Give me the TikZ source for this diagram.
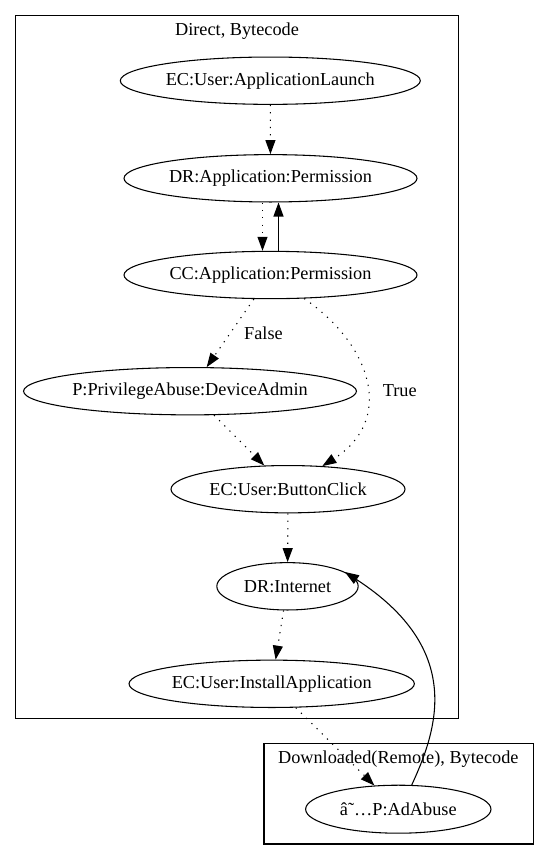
\documentclass[tikz,border=0pt]{standalone}
\usepackage{fontspec}
\setmainfont{Liberation Serif}
\usetikzlibrary{shapes.geometric,arrows.meta}
\begin{document}
\begin{tikzpicture}[x=0.75pt,y=-0.75pt,
  every node/.style={font=\fontsize{13.7pt}{16pt}\selectfont},
  gnode/.style={draw,ellipse,inner sep=0pt,line width=0.8pt,minimum height=35.5pt},
  cluster/.style={draw,line width=0.8pt},
  edge/.style={line width=0.8pt,-{Triangle[length=10.5pt,width=7.5pt]}},
  dotedge/.style={edge,dash pattern=on 0.9pt off 4.6pt},
  lbl/.style={inner sep=0pt}]
\useasboundingbox[fill=white] (0,0) rectangle (549,860);
% clusters
\draw[cluster] (15.7,15.7) rectangle (458.7,718.3);
\node[lbl] (c1lbl) at (237,30.7) {Direct, Bytecode};
\draw[cluster] (264,743.3) rectangle (533.3,844);
\node[lbl] (c2lbl) at (398.3,759.3) {Downloaded(Remote), Bytecode};
% nodes
\node[gnode,minimum width=225pt] (al) at (270.3,80.7) {EC:User:ApplicationLaunch};
\node[gnode,minimum width=219.75pt] (dr) at (270.5,178.3) {DR:Application:Permission};
\node[gnode,minimum width=219.75pt] (cc) at (270.5,275) {CC:Application:Permission};
\node[gnode,minimum width=247.5pt] (pa) at (190,391.2) {P:PrivilegeAbuse:DeviceAdmin};
\node[gnode,minimum width=175.5pt] (bc) at (288,489.2) {EC:User:ButtonClick};
\node[gnode,minimum width=106pt] (net) at (287.5,586.3) {DR:Internet};
\node[gnode,minimum width=214pt] (ins) at (271.7,683.8) {EC:User:InstallApplication};
\node[gnode,minimum width=139pt,minimum height=36pt] (ad) at (398.3,809.2) {â˜…P:AdAbuse};
% edges
\draw[dotedge] (al) -- (dr);
\draw[dotedge] ([xshift=-6pt]dr.south) -- ([xshift=-6pt]cc.north);
\draw[edge] ([xshift=6pt]cc.north) -- ([xshift=6pt]dr.south);
\draw[dotedge] (cc) -- (pa);
\node[lbl] (lfalse) at (263.5,333.3) {False};
\draw[dotedge] (cc.-35) .. controls (372,345) and (395,420) .. (bc.34);
\node[lbl] (ltrue) at (399.7,391) {True};
\draw[dotedge] (pa) -- (bc);
\draw[dotedge] (bc) -- (net);
\draw[dotedge] (net) -- (ins);
\draw[dotedge] (ins) -- (ad);
\draw[edge] (ad.61) .. controls (437,730) and (465,650) .. (net.14);
\end{tikzpicture}
\end{document}
